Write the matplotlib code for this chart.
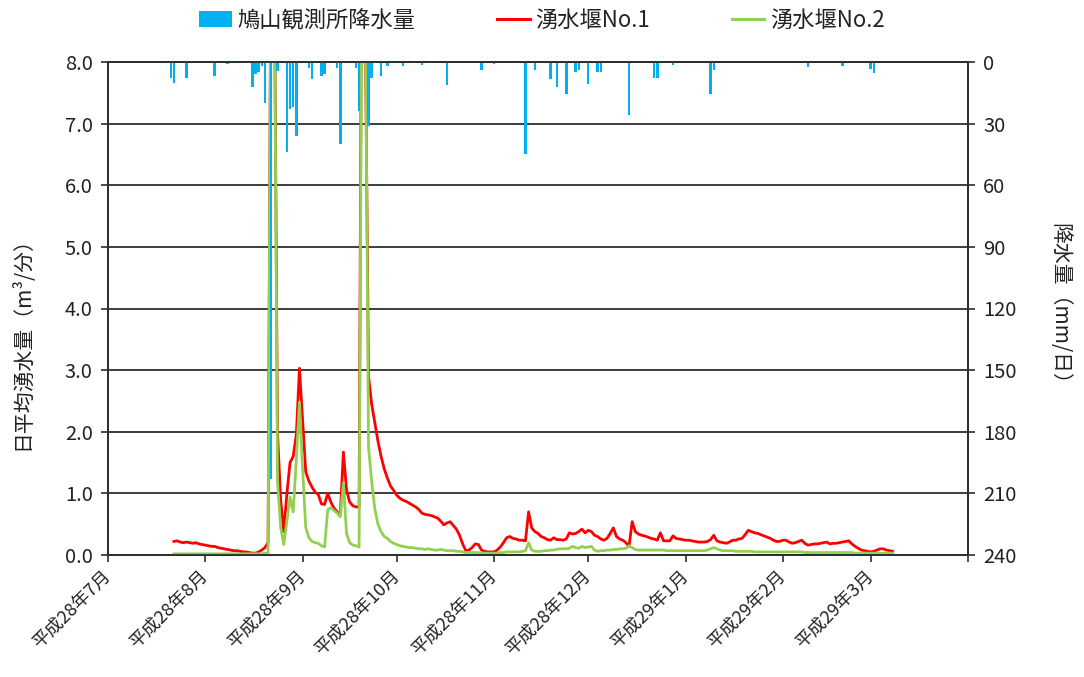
import matplotlib
matplotlib.use('Agg')
import matplotlib.pyplot as plt
import pandas as pd
import numpy as np
from matplotlib.patches import Patch
from matplotlib.lines import Line2D
from matplotlib.ticker import FormatStrFormatter

plt.rcParams['font.family'] = ['Noto Sans CJK JP', 'DejaVu Sans']

# ---- data ----
series_start = '2016-07-22'

no1_jul = [0.22, 0.23, 0.21, 0.20, 0.21, 0.20, 0.19, 0.20, 0.18, 0.17]
no1_aug = [0.16, 0.15, 0.14, 0.14, 0.12, 0.11, 0.10, 0.09, 0.08, 0.07,
           0.07, 0.06, 0.05, 0.05, 0.04, 0.03, 0.03, 0.05, 0.08, 0.12,
           0.20, 11.0, 9.5, 2.0, 0.9, 0.38, 1.0, 1.5, 1.6, 1.95,
           3.03]
no1_sep = [2.2, 1.35, 1.2, 1.1, 1.02, 0.98, 0.83, 0.82, 1.0, 0.86,
           0.76, 0.70, 0.65, 1.67, 1.05, 0.86, 0.80, 0.78, 0.78, 12.0,
           8.5, 2.9, 2.45, 2.15, 1.85, 1.6, 1.4, 1.25, 1.12, 1.05]
no1_oct = [0.97, 0.92, 0.89, 0.87, 0.84, 0.81, 0.78, 0.74, 0.68, 0.66,
           0.65, 0.64, 0.62, 0.60, 0.55, 0.49, 0.52, 0.54, 0.48, 0.42,
           0.32, 0.18, 0.07, 0.08, 0.12, 0.18, 0.17, 0.08, 0.06, 0.05,
           0.05]
no1_nov = [0.05, 0.08, 0.13, 0.20, 0.28, 0.30, 0.27, 0.26, 0.24, 0.24,
           0.23, 0.70, 0.44, 0.38, 0.35, 0.30, 0.28, 0.25, 0.24, 0.28,
           0.25, 0.25, 0.24, 0.26, 0.36, 0.34, 0.35, 0.38, 0.42, 0.36]
no1_dec = [0.40, 0.38, 0.32, 0.30, 0.26, 0.24, 0.27, 0.35, 0.44, 0.30,
           0.26, 0.24, 0.20, 0.14, 0.54, 0.38, 0.34, 0.32, 0.31, 0.29,
           0.27, 0.26, 0.24, 0.36, 0.23, 0.23, 0.23, 0.31, 0.27, 0.26,
           0.25]
no1_jan = [0.24, 0.24, 0.23, 0.22, 0.21, 0.21, 0.21, 0.22, 0.25, 0.32,
           0.23, 0.21, 0.20, 0.19, 0.21, 0.24, 0.24, 0.26, 0.27, 0.33,
           0.40, 0.38, 0.36, 0.35, 0.33, 0.31, 0.29, 0.27, 0.24, 0.22,
           0.22]
no1_feb = [0.24, 0.24, 0.21, 0.19, 0.20, 0.22, 0.24, 0.19, 0.16, 0.17,
           0.18, 0.18, 0.19, 0.20, 0.21, 0.18, 0.19, 0.19, 0.20, 0.21,
           0.22, 0.23, 0.18, 0.14, 0.11, 0.08, 0.07, 0.06]
no1_mar = [0.05, 0.06, 0.08, 0.10, 0.10, 0.08, 0.07, 0.06]

no2_jul = [0.02, 0.02, 0.02, 0.02, 0.02, 0.02, 0.02, 0.02, 0.02, 0.02]
no2_aug = [0.02, 0.02, 0.02, 0.02, 0.02, 0.02, 0.02, 0.02, 0.02, 0.02,
           0.02, 0.02, 0.02, 0.02, 0.02, 0.02, 0.02, 0.02, 0.02, 0.03,
           0.03, 11.0, 9.5, 1.2, 0.45, 0.17, 0.55, 0.94, 0.70, 1.55,
           2.48]
no2_sep = [1.4, 0.45, 0.28, 0.22, 0.20, 0.19, 0.15, 0.13, 0.73, 0.77,
           0.72, 0.68, 0.62, 1.17, 0.35, 0.20, 0.16, 0.15, 0.13, 11.0,
           9.0, 1.75, 1.2, 0.75, 0.5, 0.38, 0.30, 0.27, 0.22, 0.19]
no2_oct = [0.17, 0.15, 0.14, 0.13, 0.12, 0.12, 0.11, 0.10, 0.10, 0.09,
           0.10, 0.09, 0.08, 0.08, 0.09, 0.08, 0.07, 0.07, 0.07, 0.06,
           0.06, 0.05, 0.04, 0.04, 0.04, 0.04, 0.04, 0.03, 0.03, 0.03,
           0.03]
no2_nov = [0.03, 0.03, 0.04, 0.04, 0.05, 0.05, 0.05, 0.05, 0.05, 0.06,
           0.07, 0.20, 0.08, 0.06, 0.06, 0.06, 0.07, 0.07, 0.08, 0.08,
           0.09, 0.10, 0.10, 0.10, 0.11, 0.14, 0.12, 0.11, 0.14, 0.12]
no2_dec = [0.13, 0.14, 0.08, 0.06, 0.07, 0.07, 0.08, 0.08, 0.09, 0.09,
           0.10, 0.10, 0.11, 0.15, 0.12, 0.09, 0.08, 0.08, 0.08, 0.08,
           0.08, 0.08, 0.08, 0.08, 0.08, 0.07, 0.07, 0.07, 0.07, 0.07,
           0.07]
no2_jan = [0.07, 0.07, 0.07, 0.07, 0.07, 0.07, 0.07, 0.08, 0.10, 0.12,
           0.10, 0.08, 0.07, 0.07, 0.07, 0.07, 0.06, 0.06, 0.06, 0.06,
           0.06, 0.06, 0.05, 0.05, 0.05, 0.05, 0.05, 0.05, 0.05, 0.05,
           0.05]
no2_feb = [0.05, 0.05, 0.05, 0.05, 0.05, 0.05, 0.05, 0.04, 0.04, 0.04,
           0.04, 0.04, 0.04, 0.04, 0.04, 0.04, 0.04, 0.04, 0.04, 0.04,
           0.04, 0.04, 0.04, 0.03, 0.03, 0.03, 0.03, 0.03]
no2_mar = [0.03, 0.03, 0.03, 0.03, 0.03, 0.03, 0.03, 0.03]

rain_dates = ['2016-07-21', '2016-07-22', '2016-07-26', '2016-08-04', '2016-08-08',
              '2016-08-16', '2016-08-17', '2016-08-18', '2016-08-19', '2016-08-20',
              '2016-08-22', '2016-08-24', '2016-08-27', '2016-08-28', '2016-08-29',
              '2016-08-30', '2016-09-03', '2016-09-04', '2016-09-07', '2016-09-08',
              '2016-09-12', '2016-09-13', '2016-09-18', '2016-09-19', '2016-09-22',
              '2016-09-23', '2016-09-26', '2016-09-28', '2016-10-03', '2016-10-09',
              '2016-10-17', '2016-10-28', '2016-11-01', '2016-11-11', '2016-11-14',
              '2016-11-19', '2016-11-21', '2016-11-24', '2016-11-27', '2016-11-28',
              '2016-12-01', '2016-12-04', '2016-12-05', '2016-12-14', '2016-12-22',
              '2016-12-23', '2016-12-28', '2017-01-09', '2017-01-10', '2017-02-09',
              '2017-02-20', '2017-03-01', '2017-03-02']
rain_mm = [8, 10, 8, 7, 1,
           12, 6, 5, 2, 20,
           203, 4.5, 44, 23, 22,
           36, 3, 8.5, 7, 6,
           3, 40, 3, 24, 31,
           8, 7, 2, 2, 1.5,
           11, 4, 1, 45, 4,
           8.5, 12, 15.5, 5, 4,
           10.5, 5, 5, 26, 8,
           8, 1.5, 15.5, 4, 2.5,
           2, 3.5, 5.5]

tick_months = ['2016-07-01', '2016-08-01', '2016-09-01', '2016-10-01', '2016-11-01',
               '2016-12-01', '2017-01-01', '2017-02-01', '2017-03-01', '2017-04-01']
tick_labels = ['平成28年7月', '平成28年8月', '平成28年9月', '平成28年10月', '平成28年11月',
               '平成28年12月', '平成29年1月', '平成29年2月', '平成29年3月', '']

no1 = no1_jul + no1_aug + no1_sep + no1_oct + no1_nov + no1_dec + no1_jan + no1_feb + no1_mar
no2 = no2_jul + no2_aug + no2_sep + no2_oct + no2_nov + no2_dec + no2_jan + no2_feb + no2_mar
dates = pd.date_range(series_start, periods=len(no1), freq='D')

# ---- figure ----
W, H = 1084, 677
fig = plt.figure(figsize=(W / 100, H / 100), dpi=100)
ax = fig.add_axes([108 / W, 1 - 555 / H, 860 / W, 493 / H])

grid_c = '#2e2e2e'
txt_c = '#222222'

ax.plot(dates, no1, color='#FF0000', lw=2.0, zorder=2)
ax.plot(dates, no2, color='#92D050', lw=2.0, zorder=3)
ax.set_ylim(0, 8)
ax.set_yticks(np.arange(0, 8.01, 1.0))
ax.yaxis.set_major_formatter(FormatStrFormatter('%.1f'))
ax.grid(axis='y', color=grid_c, lw=1.3, zorder=0)
ax.set_axisbelow(True)
ax.set_xlim(pd.Timestamp('2016-07-01'), pd.Timestamp('2017-04-01'))
ax.set_xticks(pd.to_datetime(tick_months))
ax.set_xticklabels(tick_labels, rotation=45, ha='right', va='center',
                   rotation_mode='anchor', fontsize=13, color=txt_c)
ax.tick_params(axis='x', direction='out', length=5, width=1.2, color=grid_c, pad=8)
ax.tick_params(axis='y', direction='out', length=5, width=1.2, color=grid_c,
               labelsize=14.5, labelcolor=txt_c, pad=6)
for s in ax.spines.values():
    s.set_color(grid_c)
    s.set_linewidth(1.3)

ax2 = ax.twinx()
ax2.bar(pd.to_datetime(rain_dates), rain_mm, width=0.8, color='#00B0F0', zorder=2)
ax2.set_ylim(240, 0)
ax2.set_yticks(range(0, 241, 30))
ax2.tick_params(axis='y', direction='out', length=5, width=1.2, color=grid_c,
                labelsize=14.5, labelcolor=txt_c, pad=6)
for s in ax2.spines.values():
    s.set_color(grid_c)
    s.set_linewidth(1.3)

ax.set_ylabel('日平均湧水量（m³/分）', fontsize=15, color=txt_c, va='center')
ax.yaxis.set_label_coords(-0.1, 0.44)
ax2.set_ylabel('降水量（mm/日）', fontsize=15, color=txt_c, rotation=270, va='center')
ax2.yaxis.set_label_coords(1.106, 0.5)

handles = [Patch(facecolor='#00B0F0', edgecolor='none'),
           Line2D([], [], color='#FF0000', lw=2.2),
           Line2D([], [], color='#92D050', lw=2.2)]
labels = ['鳩山観測所降水量', '湧水堰No.1', '湧水堰No.2']
fig.legend(handles, labels, loc='center', bbox_to_anchor=(0.5, 1 - 20 / H), ncol=3,
           frameon=False, fontsize=16, handlelength=1.45, handletextpad=0.25,
           columnspacing=3.7, labelcolor=txt_c)

fig.savefig('out.png', dpi=100)
